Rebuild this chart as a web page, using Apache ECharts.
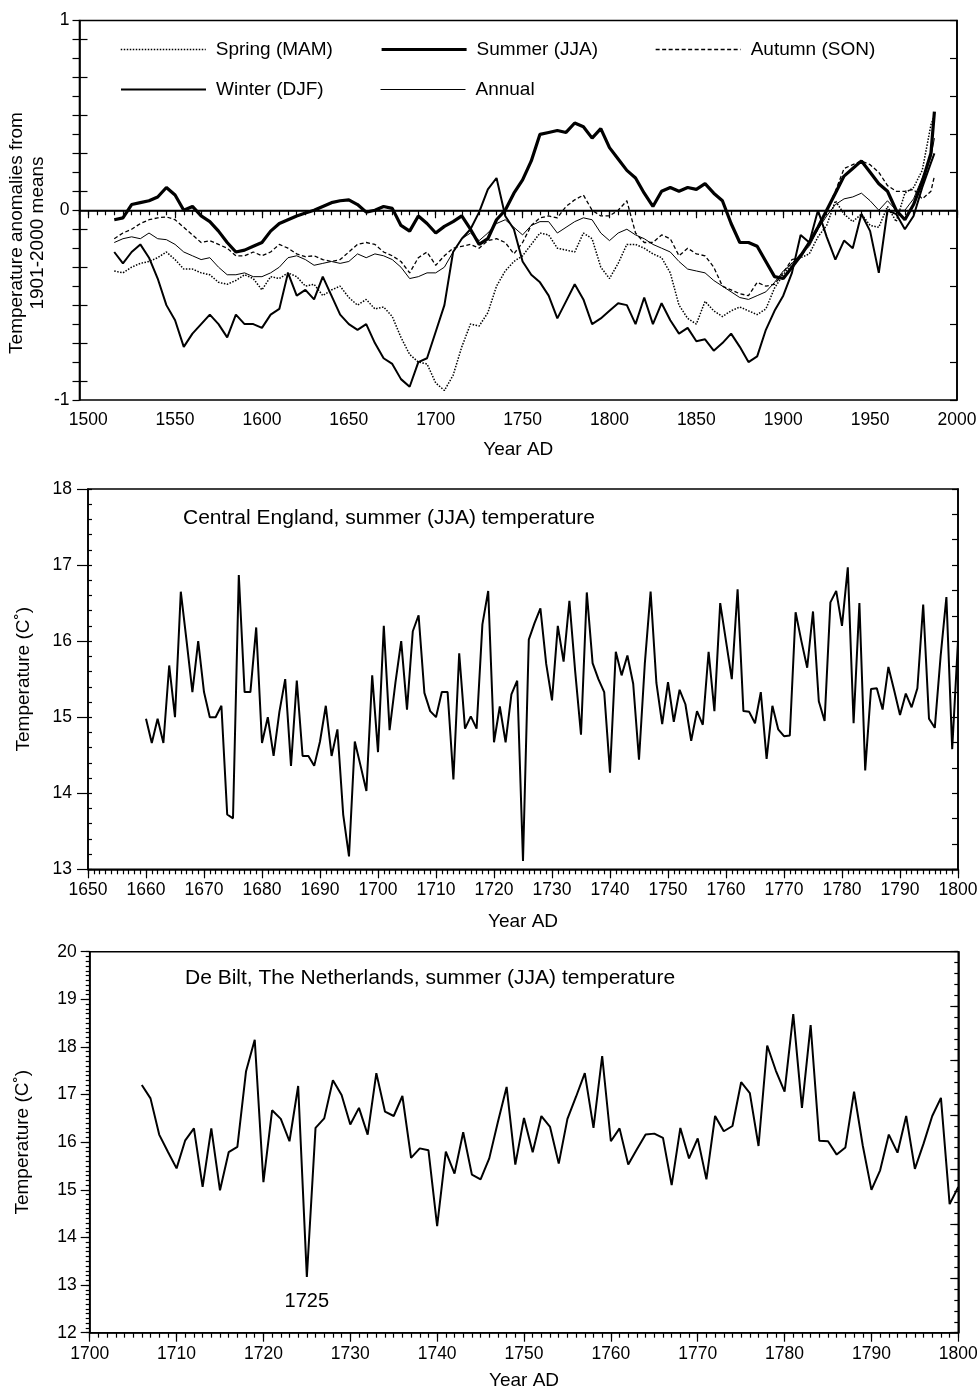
<!DOCTYPE html>
<html>
<head>
<meta charset="utf-8">
<title>Temperature reconstructions</title>
<script src="https://cdn.jsdelivr.net/npm/echarts@6.0.0/dist/echarts.min.js"></script>
<style>
html,body{margin:0;padding:0;background:#fff;}
#chart{width:977px;height:1390px;}
</style>
</head>
<body>
<div id="chart"></div>
<script>
// ---------- Panel 1: smoothed seasonal anomalies (read every 5 years) ----------
const years1 = [1515,1520,1525,1530,1535,1540,1545,1550,1555,1560,1565,1570,1575,1580,1585,1590,1595,1600,1605,1610,1615,1620,1625,1630,1635,1640,1645,1650,1655,1660,1665,1670,1675,1680,1685,1690,1695,1700,1705,1710,1715,1720,1725,1730,1735,1740,1745,1750,1755,1760,1765,1770,1775,1780,1785,1790,1795,1800,1805,1810,1815,1820,1825,1830,1835,1840,1845,1850,1855,1860,1865,1870,1875,1880,1885,1890,1895,1900,1905,1910,1915,1920,1925,1930,1935,1940,1945,1950,1955,1960,1965,1970,1975,1980,1985,1987];
const spring = [-0.32,-0.33,-0.30,-0.28,-0.27,-0.25,-0.22,-0.26,-0.31,-0.31,
-0.33,-0.34,-0.38,-0.39,-0.37,-0.34,-0.36,-0.42,-0.35,-0.36,
-0.33,-0.35,-0.40,-0.39,-0.45,-0.42,-0.40,-0.46,-0.50,-0.47,
-0.52,-0.51,-0.56,-0.67,-0.76,-0.80,-0.81,-0.91,-0.95,-0.87,
-0.72,-0.60,-0.61,-0.54,-0.40,-0.32,-0.27,-0.24,-0.18,-0.12,
-0.13,-0.20,-0.21,-0.22,-0.12,-0.15,-0.30,-0.36,-0.28,-0.18,
-0.18,-0.20,-0.23,-0.25,-0.33,-0.50,-0.57,-0.60,-0.48,-0.53,
-0.56,-0.53,-0.51,-0.53,-0.55,-0.52,-0.41,-0.34,-0.28,-0.25,
-0.23,-0.14,-0.08,0.05,-0.02,-0.06,-0.02,-0.08,-0.09,0.02,
-0.06,0.09,0.12,0.21,0.45,0.50];
const summer = [-0.05,-0.04,0.03,0.04,0.05,0.07,0.12,0.08,0.00,0.02,
-0.03,-0.06,-0.11,-0.17,-0.22,-0.21,-0.19,-0.17,-0.11,-0.07,
-0.05,-0.03,-0.015,0.00,0.02,0.04,0.05,0.055,0.03,-0.01,
0.00,0.02,0.01,-0.08,-0.11,-0.03,-0.07,-0.12,-0.085,-0.06,
-0.03,-0.10,-0.18,-0.15,-0.05,0.00,0.09,0.16,0.26,0.40,
0.41,0.42,0.41,0.46,0.44,0.38,0.43,0.33,0.27,0.21,
0.17,0.09,0.02,0.10,0.12,0.10,0.12,0.11,0.14,0.09,
0.05,-0.07,-0.17,-0.17,-0.19,-0.27,-0.35,-0.36,-0.30,-0.24,
-0.17,-0.09,0.00,0.09,0.18,0.22,0.26,0.20,0.14,0.10,
0.00,-0.05,0.03,0.15,0.30,0.52];
const autumn = [-0.15,-0.12,-0.10,-0.07,-0.05,-0.04,-0.035,-0.05,-0.09,-0.13,
-0.17,-0.16,-0.18,-0.20,-0.24,-0.24,-0.22,-0.24,-0.22,-0.18,
-0.20,-0.23,-0.245,-0.24,-0.26,-0.27,-0.26,-0.22,-0.18,-0.17,
-0.18,-0.22,-0.24,-0.27,-0.33,-0.25,-0.22,-0.29,-0.24,-0.20,
-0.19,-0.18,-0.20,-0.16,-0.15,-0.17,-0.23,-0.17,-0.08,-0.04,
-0.03,-0.04,0.02,0.055,0.08,0.00,-0.03,-0.03,0.00,0.05,
-0.12,-0.17,-0.17,-0.13,-0.15,-0.24,-0.20,-0.23,-0.24,-0.30,
-0.40,-0.42,-0.44,-0.45,-0.38,-0.40,-0.39,-0.33,-0.26,-0.25,
-0.17,-0.10,0.00,0.10,0.22,0.24,0.26,0.24,0.20,0.13,
0.10,0.10,0.11,0.06,0.10,0.18];
const winter = [-0.22,-0.28,-0.22,-0.18,-0.25,-0.36,-0.50,-0.58,-0.72,-0.65,
-0.60,-0.55,-0.60,-0.67,-0.55,-0.60,-0.60,-0.62,-0.55,-0.52,
-0.33,-0.45,-0.42,-0.47,-0.35,-0.45,-0.55,-0.60,-0.63,-0.60,
-0.70,-0.78,-0.81,-0.89,-0.93,-0.80,-0.78,-0.64,-0.50,-0.22,
-0.15,-0.10,-0.01,0.11,0.17,-0.03,-0.10,-0.27,-0.34,-0.38,
-0.45,-0.57,-0.48,-0.39,-0.47,-0.60,-0.57,-0.53,-0.49,-0.50,
-0.60,-0.46,-0.60,-0.49,-0.58,-0.65,-0.62,-0.69,-0.68,-0.74,
-0.70,-0.65,-0.72,-0.80,-0.77,-0.63,-0.53,-0.45,-0.33,-0.13,
-0.17,0.00,-0.14,-0.26,-0.16,-0.20,-0.02,-0.11,-0.33,0.00,
-0.02,-0.10,-0.03,0.12,0.25,0.30];
const annual = [-0.17,-0.15,-0.14,-0.15,-0.12,-0.15,-0.155,-0.18,-0.22,-0.24,
-0.26,-0.25,-0.30,-0.34,-0.34,-0.33,-0.35,-0.35,-0.33,-0.30,
-0.25,-0.24,-0.26,-0.29,-0.28,-0.27,-0.28,-0.27,-0.23,-0.25,
-0.23,-0.24,-0.26,-0.30,-0.36,-0.35,-0.33,-0.33,-0.30,-0.22,
-0.15,-0.12,-0.16,-0.12,-0.07,-0.05,-0.09,-0.13,-0.08,-0.06,
-0.06,-0.12,-0.09,-0.06,-0.04,-0.05,-0.12,-0.16,-0.12,-0.10,
-0.13,-0.15,-0.18,-0.20,-0.22,-0.27,-0.31,-0.32,-0.33,-0.37,
-0.40,-0.43,-0.46,-0.47,-0.45,-0.43,-0.38,-0.32,-0.28,-0.23,
-0.19,-0.10,-0.03,0.03,0.06,0.07,0.09,0.05,0.00,0.05,
0.00,0.00,0.06,0.17,0.28,0.38];
const years1Labels = [1500,1550,1600,1650,1700,1750,1800,1850,1900,1950,2000];
const anomInnerTicks = [-0.9,-0.7,-0.5,-0.3,-0.1,0.1,0.3,0.5,0.7,0.9];

// ---------- Panel 2: Central England summer temperature ----------
const ceYears = [1660,1661,1662,1663,1664,1665,1666,1667,1668,1669,1670,1671,1672,1673,1674,1675,1676,1677,1678,1679,1680,1681,1682,1683,1684,1685,1686,1687,1688,1689,1690,1691,1692,1693,1694,1695,1696,1697,1698,1699,1700,1701,1702,1703,1704,1705,1706,1707,1708,1709,1710,1711,1712,1713,1714,1715,1716,1717,1718,1719,1720,1721,1722,1723,1724,1725,1726,1727,1728,1729,1730,1731,1732,1733,1734,1735,1736,1737,1738,1739,1740,1741,1742,1743,1744,1745,1746,1747,1748,1749,1750,1751,1752,1753,1754,1755,1756,1757,1758,1759,1760,1761,1762,1763,1764,1765,1766,1767,1768,1769,1770,1771,1772,1773,1774,1775,1776,1777,1778,1779,1780,1781,1782,1783,1784,1785,1786,1787,1788,1789,1790,1791,1792,1793,1794,1795,1796,1797,1798,1799,1800];
const ceTemp = [14.98,14.66,14.98,14.66,15.68,15.00,16.65,16.00,15.33,16.00,
15.33,15.00,15.00,15.15,13.72,13.67,16.87,15.33,15.33,16.18,
14.66,15.00,14.49,15.07,15.50,14.36,15.48,14.49,14.49,14.36,
14.68,15.15,14.49,14.84,13.72,13.17,14.68,14.36,14.03,15.55,
14.54,16.20,14.83,15.45,16.00,15.10,16.13,16.34,15.32,15.08,
15.00,15.33,15.33,14.18,15.84,14.85,15.01,14.85,16.22,16.66,
14.67,15.14,14.67,15.30,15.48,13.11,16.02,16.24,16.43,15.70,
15.22,16.20,15.73,16.53,15.60,14.77,16.64,15.71,15.50,15.33,
14.27,15.86,15.55,15.81,15.44,14.44,15.70,16.65,15.45,14.91,
15.46,14.94,15.36,15.17,14.69,15.08,14.90,15.86,15.08,16.50,
16.00,15.50,16.68,15.08,15.07,14.92,15.33,14.45,15.15,14.84,
14.75,14.76,16.38,16.00,15.65,16.39,15.21,14.95,16.51,16.66,
16.20,16.97,14.92,16.50,14.30,15.37,15.38,15.10,15.66,15.35,
15.03,15.31,15.13,15.38,16.48,14.98,14.86,15.80,16.58,14.58,
16.00];

// ---------- Panel 3: De Bilt summer temperature ----------
const dbYears = [1706,1707,1708,1709,1710,1711,1712,1713,1714,1715,1716,1717,1718,1719,1720,1721,1722,1723,1724,1725,1726,1727,1728,1729,1730,1731,1732,1733,1734,1735,1736,1737,1738,1739,1740,1741,1742,1743,1744,1745,1746,1747,1748,1749,1750,1751,1752,1753,1754,1755,1756,1757,1758,1759,1760,1761,1762,1763,1764,1765,1766,1767,1768,1769,1770,1771,1772,1773,1774,1775,1776,1777,1778,1779,1780,1781,1782,1783,1784,1785,1786,1787,1788,1789,1790,1791,1792,1793,1794,1795,1796,1797,1798,1799,1800];
const dbTemp = [17.20,16.92,16.16,15.80,15.45,16.04,16.29,15.06,16.29,14.99,
15.79,15.90,17.49,18.15,15.16,16.67,16.49,16.02,17.18,13.17,
16.30,16.50,17.30,16.99,16.37,16.72,16.16,17.45,16.64,16.55,
16.97,15.67,15.87,15.83,14.24,15.80,15.34,16.21,15.32,15.22,
15.66,16.43,17.16,15.53,16.51,15.79,16.55,16.32,15.55,16.49,
16.96,17.45,16.30,17.81,16.02,16.29,15.53,15.85,16.16,16.18,
16.09,15.10,16.30,15.66,16.08,15.22,16.55,16.23,16.34,17.26,
17.03,15.92,18.03,17.50,17.06,18.69,16.72,18.46,16.03,16.02,
15.74,15.89,17.06,15.93,15.00,15.41,16.16,15.78,16.55,15.44,
15.97,16.55,16.93,14.70,15.06];
const dbMarkYear = 1725;

// ---------- Chart ----------
const FONT = '"Liberation Sans", Arial, Helvetica, sans-serif';
const BLACK = '#000';
const AXW = 1.6;
const lineSt = {color: BLACK, width: AXW};
const tickSt = {color: BLACK, width: 1.2};
const tickLbl = {color: BLACK, fontSize: 17.5, fontFamily: FONT};
const nameSt = {color: BLACK, fontSize: 19, fontFamily: FONT};
const pair = (xs, vs) => xs.map((x, i) => [x, vs[i]]);
const intFmt = v => (Math.abs(v - Math.round(v)) < 1e-6 ? String(Math.round(v) === 0 ? 0 : Math.round(v)) : '');

const styles = {
  spring: {color: BLACK, width: 1.5, type: [1.5, 1.5]},
  summer: {color: BLACK, width: 3.2, type: 'solid'},
  autumn: {color: BLACK, width: 1.3, type: [4, 2.5]},
  winter: {color: BLACK, width: 2, type: 'solid'},
  annual: {color: BLACK, width: 1, type: 'solid'}
};

const gridCommon = {show: true, borderColor: BLACK, borderWidth: AXW, backgroundColor: '#fff', containLabel: false, outerBoundsMode: 'none'};

const option = {
  animation: false,
  backgroundColor: '#fff',
  textStyle: {fontFamily: FONT, color: BLACK},
  grid: [
    Object.assign({left: 79.5, top: 20.5, width: 877.5, height: 379.5}, gridCommon),
    Object.assign({left: 88, top: 489, width: 870, height: 380.3}, gridCommon),
    Object.assign({left: 89.7, top: 951.7, width: 868.6, height: 381}, gridCommon)
  ],
  title: [
    {text: 'Central England, summer (JJA) temperature', left: 183, top: 508, padding: 0,
     textStyle: {fontSize: 21, fontWeight: 'normal', color: BLACK, fontFamily: FONT}},
    {text: 'De Bilt, The Netherlands, summer (JJA) temperature', left: 185, top: 968, padding: 0,
     textStyle: {fontSize: 21, fontWeight: 'normal', color: BLACK, fontFamily: FONT}}
  ],
  legend: [
    {data: ['Spring (MAM)'], left: 120, top: 40, lineStyle: styles.spring},
    {data: ['Summer (JJA)'], left: 380, top: 40, lineStyle: styles.summer},
    {data: ['Autumn (SON)'], left: 655, top: 40, lineStyle: styles.autumn},
    {data: ['Winter (DJF)'], left: 120, top: 80, lineStyle: styles.winter},
    {data: ['Annual'], left: 380, top: 80, lineStyle: styles.annual}
  ].map(l => Object.assign(l, {
    padding: 0, itemWidth: 85, itemHeight: 14, selectedMode: false,
    itemStyle: {color: 'rgba(0,0,0,0)', borderWidth: 0, borderColor: 'rgba(0,0,0,0)'},
    textStyle: {fontSize: 19, color: BLACK, fontFamily: FONT, padding: [0, 0, 0, 5]}
  })),
  graphic: [{
    type: 'text', x: 27, y: 233, rotation: Math.PI / 2, silent: true,
    style: {text: 'Temperature anomalies from\n1901-2000 means', fill: BLACK,
            font: '19px "Liberation Sans", Arial, sans-serif', lineHeight: 21,
            align: 'center', verticalAlign: 'middle', textAlign: 'center', textVerticalAlign: 'middle'}
  }],
  xAxis: [
    // panel 1
    {gridIndex: 0, type: 'value', min: 1495, max: 2000, interval: 5, position: 'bottom',
     axisLine: {show: true, lineStyle: lineSt}, axisTick: {show: true, length: 5, lineStyle: tickSt},
     axisLabel: Object.assign({margin: 11, formatter: v => (v % 50 === 0 ? String(v) : '')}, tickLbl),
     splitLine: {show: false}, name: 'Year AD', nameLocation: 'middle', nameGap: 40, nameTextStyle: nameSt},
    {gridIndex: 0, type: 'value', min: 1495, max: 2000, position: 'bottom',
     axisLine: {show: false}, axisTick: {show: true, length: 8, lineStyle: tickSt, customValues: years1Labels},
     axisLabel: {show: false}, splitLine: {show: false}},
    // panel 2
    {gridIndex: 1, type: 'value', min: 1650, max: 1800, interval: 1, position: 'bottom',
     axisLine: {show: true, lineStyle: lineSt}, axisTick: {show: true, length: 5, lineStyle: tickSt},
     axisLabel: {show: false}, splitLine: {show: false},
     name: 'Year AD', nameLocation: 'middle', nameGap: 43, nameTextStyle: nameSt},
    {gridIndex: 1, type: 'value', min: 1650, max: 1800, interval: 10, position: 'bottom',
     axisLine: {show: false}, axisTick: {show: true, length: 9, lineStyle: tickSt},
     axisLabel: Object.assign({margin: 12, formatter: v => String(v)}, tickLbl), splitLine: {show: false}},
    // panel 3
    {gridIndex: 2, type: 'value', min: 1700, max: 1800, interval: 1, position: 'bottom',
     axisLine: {show: true, lineStyle: lineSt}, axisTick: {show: true, length: 5, lineStyle: tickSt},
     axisLabel: {show: false}, splitLine: {show: false},
     name: 'Year AD', nameLocation: 'middle', nameGap: 39, nameTextStyle: nameSt},
    {gridIndex: 2, type: 'value', min: 1700, max: 1800, interval: 10, position: 'bottom',
     axisLine: {show: false}, axisTick: {show: true, length: 9, lineStyle: tickSt},
     axisLabel: Object.assign({margin: 12, formatter: v => String(v)}, tickLbl), splitLine: {show: false}}
  ],
  yAxis: [
    // panel 1 (0,1,2)
    {gridIndex: 0, type: 'value', min: -1, max: 1, interval: 0.1, position: 'left',
     axisLine: {show: true, lineStyle: lineSt}, axisTick: {show: true, length: 7, lineStyle: tickSt},
     axisLabel: Object.assign({margin: 10, formatter: intFmt}, tickLbl), splitLine: {show: false}},
    {gridIndex: 0, type: 'value', min: -1, max: 1, position: 'left',
     axisLine: {show: false}, axisTick: {show: true, inside: true, length: 8, lineStyle: tickSt, customValues: anomInnerTicks},
     axisLabel: {show: false}, splitLine: {show: false}},
    {gridIndex: 0, type: 'value', min: -1, max: 1, interval: 0.2, position: 'right',
     axisLine: {show: true, lineStyle: lineSt}, axisTick: {show: true, inside: true, length: 7, lineStyle: tickSt},
     axisLabel: {show: false}, splitLine: {show: false}},
    // panel 2 (3,4,5)
    {gridIndex: 1, type: 'value', min: 13, max: 18, interval: 1, position: 'left',
     axisLine: {show: true, lineStyle: lineSt}, axisTick: {show: true, length: 11, lineStyle: tickSt},
     axisLabel: Object.assign({margin: 16, formatter: v => String(v)}, tickLbl), splitLine: {show: false},
     name: 'Temperature (C˚)', nameLocation: 'middle', nameRotate: 90, nameGap: 55, nameTextStyle: nameSt},
    {gridIndex: 1, type: 'value', min: 13, max: 18, interval: 0.2, position: 'left',
     axisLine: {show: false}, axisTick: {show: true, inside: true, length: 4, lineStyle: tickSt},
     axisLabel: {show: false}, splitLine: {show: false}},
    {gridIndex: 1, type: 'value', min: 0, max: 15, interval: 1, position: 'right',
     axisLine: {show: true, lineStyle: lineSt}, axisTick: {show: true, inside: true, length: 6, lineStyle: tickSt},
     axisLabel: {show: false}, splitLine: {show: false}},
    // panel 3 (6,7,8,9)
    {gridIndex: 2, type: 'value', min: 12, max: 20, interval: 1, position: 'left',
     axisLine: {show: true, lineStyle: lineSt}, axisTick: {show: true, length: 9, lineStyle: tickSt},
     axisLabel: Object.assign({margin: 13, formatter: v => String(v)}, tickLbl), splitLine: {show: false},
     name: 'Temperature (C˚)', nameLocation: 'middle', nameRotate: 90, nameGap: 57, nameTextStyle: nameSt},
    {gridIndex: 2, type: 'value', min: 12, max: 20, interval: 0.1, position: 'left',
     axisLine: {show: false}, axisTick: {show: true, length: 4, lineStyle: tickSt},
     axisLabel: {show: false}, splitLine: {show: false}},
    {gridIndex: 2, type: 'value', min: 0, max: 35, interval: 1, position: 'right',
     axisLine: {show: true, lineStyle: lineSt}, axisTick: {show: true, inside: true, length: 4, lineStyle: tickSt},
     axisLabel: {show: false}, splitLine: {show: false}},
    {gridIndex: 2, type: 'value', min: 0, max: 35, interval: 5, position: 'right',
     axisLine: {show: false}, axisTick: {show: true, inside: true, length: 8, lineStyle: tickSt},
     axisLabel: {show: false}, splitLine: {show: false}}
  ],
  series: [
    {name: 'Autumn (SON)', type: 'line', xAxisIndex: 0, yAxisIndex: 0, data: pair(years1, autumn),
     symbol: 'none', color: BLACK, lineStyle: styles.autumn, silent: true, z: 3},
    {name: 'Spring (MAM)', type: 'line', xAxisIndex: 0, yAxisIndex: 0, data: pair(years1, spring),
     symbol: 'none', color: BLACK, lineStyle: styles.spring, silent: true, z: 3},
    {name: 'Annual', type: 'line', xAxisIndex: 0, yAxisIndex: 0, data: pair(years1, annual),
     symbol: 'none', color: BLACK, lineStyle: styles.annual, silent: true, z: 3,
     markLine: {silent: true, symbol: ['none', 'none'], label: {show: false},
                lineStyle: {color: BLACK, width: 1.4, type: 'solid'}, data: [{yAxis: 0}]}},
    {name: 'Winter (DJF)', type: 'line', xAxisIndex: 0, yAxisIndex: 0, data: pair(years1, winter),
     symbol: 'none', color: BLACK, lineStyle: styles.winter, silent: true, z: 4},
    {name: 'Summer (JJA)', type: 'line', xAxisIndex: 0, yAxisIndex: 0, data: pair(years1, summer),
     symbol: 'none', color: BLACK, lineStyle: styles.summer, silent: true, z: 5},
    {name: 'Central England', type: 'line', xAxisIndex: 2, yAxisIndex: 3, data: pair(ceYears, ceTemp),
     symbol: 'none', color: BLACK, lineStyle: {color: BLACK, width: 2}, silent: true},
    {name: 'De Bilt', type: 'line', xAxisIndex: 4, yAxisIndex: 6, data: pair(dbYears, dbTemp),
     symbol: 'none', color: BLACK, lineStyle: {color: BLACK, width: 2}, silent: true,
     markPoint: {silent: true, symbol: 'circle', symbolSize: 1, itemStyle: {color: 'rgba(0,0,0,0)'},
       label: {show: true, position: 'bottom', distance: 14, formatter: String(dbMarkYear),
               color: BLACK, fontSize: 20, fontFamily: FONT},
       data: [{coord: [dbMarkYear, dbTemp[dbYears.indexOf(dbMarkYear)]]}]}}
  ]
};

const chart = echarts.init(document.getElementById('chart'), null, {renderer: 'canvas'});
chart.setOption(option);
</script>
</body>
</html>
